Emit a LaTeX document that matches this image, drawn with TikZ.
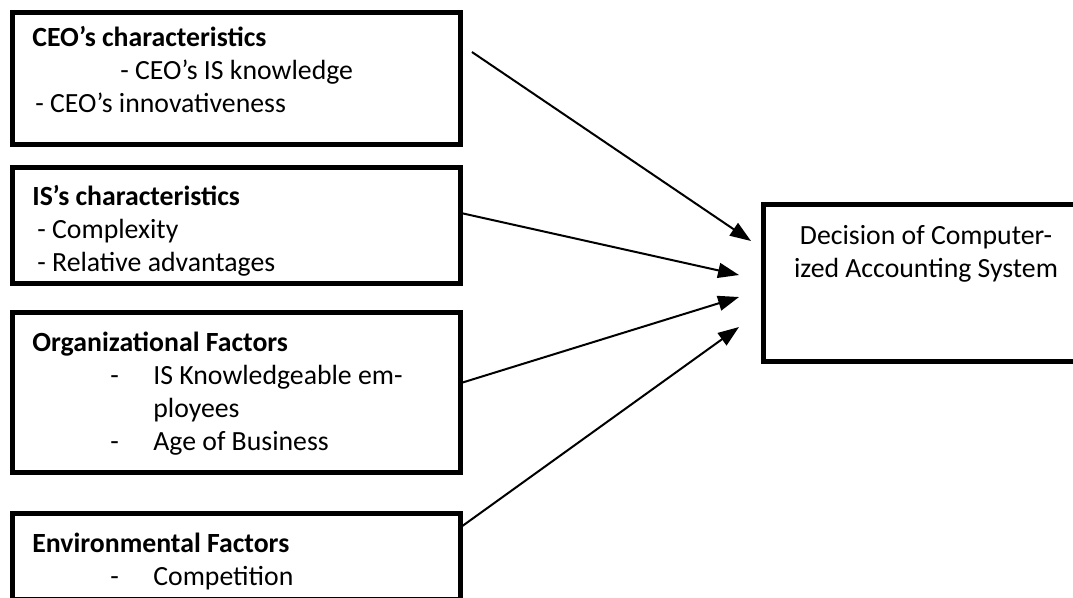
\documentclass[tikz,border=0pt]{standalone}
\usepackage{fontspec}
\setmainfont{Carlito}
\usetikzlibrary{arrows.meta,calc}
\colorlet{box edge}{black}
\newcommand{\itemdash}[1]{\hspace*{1.56cm}\makebox[0.86cm][l]{-}#1}
\tikzset{factor/.style={draw=box edge, line width=0.1cm, outer sep=0pt, minimum width=8.98cm},
    items/.style={anchor=north west, align=left, inner sep=0pt, font=\fontsize{15.8}{18.8}\selectfont,
        execute at begin node={\rule{0pt}{0.5cm}}},
    link/.style={line width=0.04cm, -{Triangle[length=0.42cm,width=0.3cm]}}}

\begin{document}
\begin{tikzpicture}[x=0.02cm, y=-0.02cm]
        \useasboundingbox (0,0) rectangle (1073,598);
        \clip (0,0) rectangle (1073,598);

        % Factor boxes
        \node[factor, minimum height=2.66cm] (ceo) at (236.5,78.5) {};
        \node[factor, minimum height=2.34cm] (is) at (236.5,225.5) {};
        \node[factor, minimum height=3.22cm] (org) at (236.5,392.5) {};
        \node[factor, minimum height=1.74cm] (env) at (236.5,556.5) {};

        \node[items] (ceotext) at ($(ceo.north west)+(20,14)$)
            {\textbf{CEO’s characteristics}\\\hspace*{1.76cm}- CEO’s IS knowledge\\\hspace*{0.06cm}- CEO’s innovativeness};
        \node[items] (istext) at ($(is.north west)+(20,18)$)
            {\textbf{IS’s characteristics}\\\hspace*{0.1cm}- Complexity\\\hspace*{0.1cm}- Relative advantages};
        \node[items] (orgtext) at ($(org.north west)+(20,20)$)
            {\textbf{Organizational Factors}\\\itemdash{IS Knowledgeable em-}\\\hspace*{2.42cm}ployees\\\itemdash{Age of Business}};
        \node[items] (envtext) at ($(env.north west)+(20,20)$)
            {\textbf{Environmental Factors}\\\itemdash{Competition}};

        % Decision box
        \node[factor, minimum width=6.52cm, minimum height=3.16cm] (dec) at (926,283) {};
        \node[items, anchor=north, align=center] (dectext) at ($(dec.north)+(0,21)$)
            {Decision of Computer-\\ized Accounting System};

        % Arrow tips
        \coordinate (in1) at ($(dec.north west)+(-12,37)$);
        \coordinate (in2) at ($(dec.north west)+(-24,71)$);
        \coordinate (in3) at ($(dec.north west)+(-24,93)$);
        \coordinate (in4) at ($(dec.north west)+(-24,123)$);

        \draw[link] ($(ceo.north east)+(11,40)$) -- (in1);
        \draw[link] ($(is.north east)+(0,46)$) -- (in2);
        \draw[link] ($(org.north east)+(0,71)$) -- (in3);
        \draw[link] ($(env.north east)+(0,14)$) -- (in4);
    \end{tikzpicture}
\end{document}
